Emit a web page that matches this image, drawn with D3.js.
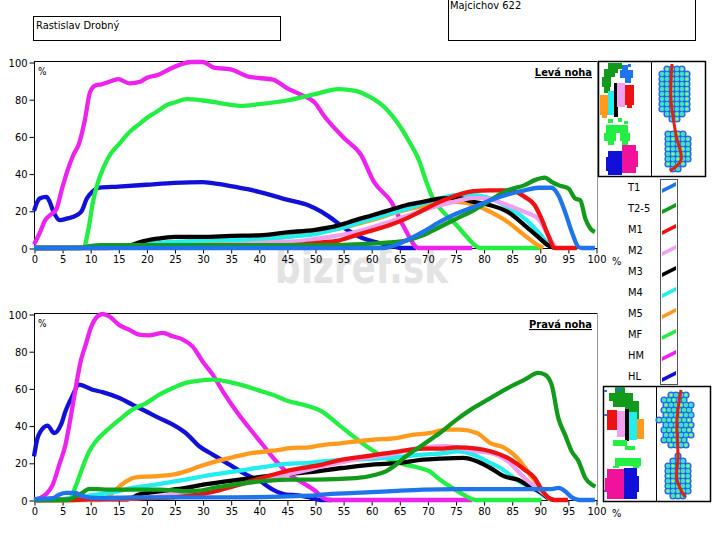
<!DOCTYPE html>
<html lang="cs">
<head>
<meta charset="UTF-8">
<title>Levá / Pravá noha</title>
<script src="https://d3js.org/d3.v7.min.js"></script>
<style>
  body { margin: 0; background: #fff; }
  text { font-family: "DejaVu Sans Condensed", "DejaVu Sans", sans-serif; }
</style>
</head>
<body>
<div id="box"></div>
<script>
// legend / series names and colours
var names = ["T1", "T2-5", "M1", "M2", "M3", "M4", "M5", "MF", "HM", "HL"];
var colors = ["#1e74ea", "#129a1a", "#ee1111", "#f0a0ee", "#000000", "#22eeee", "#ff9a1c", "#22ee44", "#ee22ee", "#1010d8"];
var xTicks = [0, 5, 10, 15, 20, 25, 30, 35, 40, 45, 50, 55, 60, 65, 70, 75, 80, 85, 90, 95, 100];
var yTicks = [0, 20, 40, 60, 80, 100];

// Levá noha  [x %, value %]
var levaT1 = [[0,0],[30,0],[62,0],[63.2,0.5],[66.2,4],[69.2,8.6],[72.2,14],[75.2,18.5],[78.2,22],[81.2,25.7],[84.3,28.8],[87.3,31],[89.7,32.4],[92.1,32.4],[93.3,28.4],[94.5,19.4],[95.7,8.6],[96.9,0.5],[97.6,0],[99.8,0]];
var levaT25 = [[0,0],[8,0],[10,1],[12,1.5],[20,1.5],[30,1.5],[40,1.5],[50,1.5],[55,1.7],[60,2.4],[63.2,3],[66.2,4],[69.2,6.8],[72.2,11.3],[75.2,15.8],[78.2,20.3],[81.2,25.7],[84.3,31],[87.3,33.8],[89.1,36.5],[90.9,37.8],[92.1,35.6],[93.3,33.8],[95.1,32],[96.3,26.6],[97.2,25.7],[98.1,15.8],[99,10.4],[99.8,8.6]];
var levaM1 = [[0,0],[10,0],[20,0.5],[30,0.8],[40,1],[45,1.4],[48,2],[51.2,3],[54.2,4],[57.2,6.8],[60.2,9.5],[63.2,12.2],[66.2,15.8],[69.2,20.3],[72.2,24.8],[75.2,28.4],[78.2,30.6],[81.2,31],[84.9,31],[87.3,27.5],[89.1,23],[90.3,15.8],[91.5,6.8],[92.7,0],[96.6,0]];
var levaM2 = [[0,0],[15,0.5],[25,1.5],[35,2],[42,3],[48,4],[51.2,5.4],[57.2,8.6],[63.2,14],[69.2,20.3],[75.2,25.2],[78.2,27],[81.2,26.3],[84.3,23],[87.3,19.4],[89.7,15.8],[91.5,6.8],[92.7,0.5]];
var levaM3 = [[0,0],[15,0.5],[16.5,0.8],[18.9,3.2],[21.9,5],[25,6],[30,6],[35,6.5],[40,6.8],[45,8.4],[50,9.8],[54.2,12.2],[57.2,15],[60.2,17.6],[63.2,20.3],[66.2,23],[69.2,24.8],[72.2,26.6],[75.2,27],[78.2,24.8],[81.2,23],[84.3,19.4],[87.3,12.2],[89.7,6],[91.5,1.4],[92.7,0]];
var levaM4 = [[0,0],[15,0.5],[20,2.3],[30,4],[40,4.7],[45,6],[50,7.5],[54.2,10.4],[60.2,15.8],[66.2,21],[72.2,26.6],[75.2,28.4],[78.2,28.4],[81.2,26.6],[84.3,22],[87.3,15.8],[89.7,8.6],[91.5,2.3],[92.7,0]];
var levaM5 = [[0,0],[15,0.5],[20,1.5],[30,3],[40,4.5],[45,6],[50,8],[55,11],[60,15],[65,19.5],[70,23],[72.2,24],[75.2,24.8],[78.2,23.4],[81.2,19.4],[84.3,14],[87.3,6.8],[89.7,1.4],[90.6,0]];
var levaMF = [[0,0],[8.8,0],[9.7,10.4],[10.5,25],[11.4,35.6],[12.3,42.8],[13.5,50],[15,55.4],[17.1,62.6],[18.9,67],[20,69.8],[21.9,73.4],[23.7,77],[25,78.2],[27.2,80],[30,79.3],[32.6,78.2],[35,77],[36.8,76.4],[40,77.3],[45,79.3],[50,82.7],[54.2,85.4],[57.2,84.5],[59.6,81.5],[62.6,75],[65,66],[66.8,57],[68.6,46.4],[69.8,35.6],[71,26.6],[72.8,19.4],[75.2,12.2],[77,6],[78.5,1.4],[79.4,0],[90,0]];
var levaHM = [[0,2],[1,8],[2,15],[3,18],[4,21],[5,32],[6,42],[7,50],[8,56],[9,68],[10,84],[11,87.5],[12,88],[14,90],[15,90.8],[17,88.5],[19,89.5],[20,91.4],[22,93],[24,96],[26,98.6],[28,100],[30,100],[32,97],[35,96],[38,92.3],[40,91.4],[42.5,90.5],[45,86],[47.5,82.4],[50,78],[51.5,71.5],[55.2,59],[58.2,50],[60.5,35.5],[63.6,24.7],[65.9,10.8],[68.4,0],[78,0]];
var levaHL = [[0,20],[1,26.6],[2.2,27.5],[2.8,24.8],[3.4,20],[4.6,15],[5.8,15.8],[7.6,17.6],[8.5,20],[9.4,26.6],[10.5,30.6],[11.7,32.4],[15,33],[20,34],[25,35],[30,35.4],[32,34.7],[35,33.3],[38,31.6],[40,30.2],[45,26],[48.8,23],[51.2,19.4],[53,15.8],[55.4,10.4],[58.4,5.4],[60.8,3.2],[63.8,1],[65.5,0],[68,0]];

// Pravá noha  [x %, value %]
var pravaT1 = [[0,0.5],[3.3,1],[4.5,2.9],[5.6,3.8],[7.4,3.8],[8.6,2],[11.6,1],[17.5,1.4],[35.4,1.4],[49,2.3],[51.2,2.9],[57.2,3.8],[63.2,4.7],[69.2,5.6],[75.2,5.9],[87.3,5.9],[92.1,5.9],[93.3,6.5],[94.5,4.7],[95.7,1.4],[96.3,0.5],[97,0],[99.8,0]];
var pravaT25 = [[0,0],[5.7,0],[6.8,1],[8.6,3.8],[9.8,6],[12.8,5.6],[17.5,5.6],[22.3,5.6],[27,4.7],[29.4,5],[32.4,6.8],[35.4,8.2],[40.1,10],[44.9,11],[50,11],[57.2,11.8],[60.8,13.6],[62.6,15.4],[64.4,19],[66.2,23.5],[69.2,29.7],[72.2,36],[75.2,43.2],[78.2,49.5],[81.2,54.8],[84.3,60.2],[87.3,64.7],[89.7,68.3],[90.9,67.4],[92.1,62],[93.3,44],[94.5,35],[95.7,26],[96.9,20.8],[98.1,11.8],[99.3,8.2],[99.9,7.3]];
var pravaM1 = [[0,0],[7,0],[10,0.5],[20,1],[24.7,1.4],[28.2,2.5],[31.8,4.3],[35.4,7.3],[38.9,10.4],[42.5,13.6],[46.1,16.3],[49,17.8],[51,18.9],[54.8,21.7],[60.2,24],[65,26.2],[69.2,27.6],[72.2,27.6],[75.2,28.3],[78.8,27.6],[81.2,26.2],[84.3,22.6],[87.3,16.3],[89.1,11.8],[90.3,5.6],[91.5,1.4],[92.5,0],[95,0]];
var pravaM2 = [[0,0],[15,0.5],[22.3,2],[27,3.8],[31.8,5.6],[36.6,8.2],[41.3,11],[46.1,14.5],[49,16.3],[51.2,18],[57.2,21.7],[63.2,24.4],[69.2,28.3],[73.4,28.9],[76.4,27.6],[78.8,26.2],[81.2,25.3],[84.3,20.8],[87.3,11.8],[89.1,7.3],[90.9,2.9],[92,0]];
var pravaM3 = [[0,0],[16.4,0.3],[18.7,2.9],[22.3,4.7],[27,6.5],[29.4,7.9],[34.2,10],[38.9,11.8],[43.7,13.6],[49,15],[54.8,17.2],[60.2,19],[65,19.9],[69.2,21.7],[72.2,22.2],[76.4,22.6],[78.8,20.8],[81.2,17.2],[83.7,12.7],[86,11],[88.5,6.8],[90.3,3.8],[91.5,1],[92.5,0]];
var pravaM4 = [[0,0],[5,0.5],[8.6,2],[13.4,3.8],[17.5,6.5],[22.3,8.6],[27,11],[31.8,13.6],[36.6,15.8],[41.3,18],[44.9,19.4],[49,19.9],[51.2,20.8],[57.2,21.7],[63.2,22.6],[69.2,24.4],[73.4,25.3],[75.2,26.2],[78.2,24.4],[80.6,20.8],[83,17.2],[85.4,11.8],[87.3,8.2],[89.7,4.7],[90.9,2],[92,0]];
var pravaM5 = [[0,0],[12,0],[12.8,1],[14.6,5.6],[16.4,10],[18.1,12.2],[21.1,12.7],[24.7,13.6],[27,15.4],[29.4,18],[32.4,20.8],[35.4,23],[38.9,25.3],[42.5,26.5],[46.1,28],[49,28.3],[50,28.9],[54.8,30.6],[60.2,32.4],[64.4,33.3],[66.8,34.8],[70.4,36],[73.4,37.8],[75.8,37.8],[78.8,36],[81.2,30.6],[83.7,28],[86,22.6],[88.5,12.7],[90,7.3],[90.9,2.9],[92.1,0]];
var pravaMF = [[0,0],[6.2,0],[7.4,7.3],[8.6,17.2],[9.8,26],[11,31.5],[12.8,37],[15.2,43.2],[17.5,48.6],[19.9,52],[22.3,56.6],[24.7,60.2],[27,63],[29.4,64.2],[31.8,64.7],[34.8,63.4],[37.8,61.1],[40.1,58.8],[42.5,56.6],[44.9,53.5],[48.2,51],[51.2,47.7],[54.2,40.5],[57.2,33.3],[59.6,28],[62.6,22.6],[65.6,19.4],[68.6,17.2],[70.4,15.4],[72.2,11],[74,7.3],[76.4,2.9],[77.9,0.5],[79,0],[90.3,0]];
var pravaHM = [[0,0],[2.1,3],[3.3,8],[4.5,19],[5.6,29.7],[6.5,44],[7.4,60],[8.3,74.5],[9.2,83.5],[10.1,92.5],[11.3,98.7],[12.2,100],[13.4,98.7],[15.2,94],[16.9,91.6],[18.7,88.9],[20.5,88.5],[21.7,89.2],[22.9,89.8],[24.7,88],[26.5,86.2],[28.2,82.6],[30,74.5],[31.8,67.4],[33.6,58.4],[36,47.7],[38.3,38.7],[40.7,29.7],[43.1,20.8],[45.5,13.6],[48.5,8],[50,5],[51.5,1],[52.5,0],[78,0]];
var pravaHL = [[0,23.5],[0.6,33],[1.2,37],[2.4,40],[3.6,36],[4.8,40.5],[5.6,47.7],[6.8,55.7],[8,62],[10.4,59.3],[12.2,58],[15.2,54.8],[17.5,51.3],[19.9,47.7],[22.3,44],[24.7,40.5],[27,36],[29.4,28.9],[31.8,24.4],[34.8,19],[37.8,13.6],[40.1,10.4],[42.5,5.6],[44.9,2.9],[47,2.5],[49,1.4],[51,0],[53,0]];

var levaSeries = [levaT1, levaT25, levaM1, levaM2, levaM3, levaM4, levaM5, levaMF, levaHM, levaHL];
var pravaSeries = [pravaT1, pravaT25, pravaM1, pravaM2, pravaM3, pravaM4, pravaM5, pravaMF, pravaHM, pravaHL];

var width = 727, height = 533;
var svg = d3.select("#box").append("svg")
    .attr("width", width).attr("height", height);

// watermark
svg.append("text")
    .attr("x", 275).attr("y", 283)
    .attr("textLength", 173).attr("lengthAdjust", "spacingAndGlyphs")
    .style("font-family", "'DejaVu Sans', sans-serif")
    .style("font-weight", "bold").style("font-size", "46px")
    .attr("fill", "#e3e3e3")
    .text("bizref.sk");

// header boxes
svg.append("rect").attr("x", 33.5).attr("y", 16.5).attr("width", 247).attr("height", 24)
    .attr("fill", "none").attr("stroke", "#000");
svg.append("text").attr("x", 36).attr("y", 29).style("font-size", "11px").text("Rastislav Drobný");
svg.append("rect").attr("x", 448.5).attr("y", -1).attr("width", 247).attr("height", 41.5)
    .attr("fill", "none").attr("stroke", "#000");
svg.append("text").attr("x", 450).attr("y", 9).style("font-size", "11px").text("Majcichov 622");

var x = d3.scaleLinear().domain([0, 100]).range([34, 596]);

function drawChart(top, bottom, series, title) {
    var y = d3.scaleLinear().domain([0, 100]).range([bottom, top + 1]);
    var g = svg.append("g");

    // frame
    g.append("line").attr("x1", 34).attr("x2", 597).attr("y1", top + 0.5).attr("y2", top + 0.5).attr("stroke", "#000");
    g.append("line").attr("x1", 597.5).attr("x2", 597.5).attr("y1", top).attr("y2", bottom + 1).attr("stroke", "#999");
    g.append("line").attr("x1", 34.5).attr("x2", 34.5).attr("y1", top).attr("y2", bottom).attr("stroke", "#000");
    g.append("line").attr("x1", 34).attr("x2", 597).attr("y1", bottom + 0.5).attr("y2", bottom + 0.5).attr("stroke", "#000");

    var yAxis = d3.axisLeft(y).tickValues(yTicks).tickSize(5).tickPadding(2);
    var ga = g.append("g").attr("transform", "translate(34.5,0.5)").call(yAxis);
    ga.select(".domain").remove();
    ga.selectAll("text").style("font-size", "11px").style("font-family", null).attr("fill", "#000");

    var xAxis = d3.axisBottom(x).tickValues(xTicks).tickSize(5).tickPadding(2);
    var gx = g.append("g").attr("transform", "translate(0.5," + (bottom + 0.5) + ")").call(xAxis);
    gx.select(".domain").remove();
    gx.selectAll("text").style("font-size", "11px").style("font-family", null).attr("fill", "#000");

    g.append("text").attr("x", 38).attr("y", top + 14).style("font-size", "10px").text("%");
    g.append("text").attr("x", 612).attr("y", bottom + 17).style("font-size", "11px").text("%");
    g.append("text").attr("x", 592).attr("y", top + 15).attr("text-anchor", "end")
        .style("font-size", "11px").style("font-weight", "bold")
        .style("text-decoration", "underline").text(title);

    var line = d3.line()
        .x(function(d) { return x(d[0]); })
        .y(function(d) { return y(d[1]); })
        .curve(d3.curveMonotoneX);

    // draw in reverse legend order, so T1 ends on top
    var order = d3.range(series.length).reverse();
    g.selectAll("path.serie")
        .data(order)
        .enter()
        .append("path")
        .attr("class", "serie")
        .attr("d", function(i) { return line(series[i]); })
        .attr("fill", "none")
        .attr("stroke", function(i) { return colors[i]; })
        .attr("stroke-width", 4.3)
        .attr("stroke-linejoin", "round");
}

drawChart(61, 248, levaSeries, "Levá noha");
drawChart(313, 500, pravaSeries, "Pravá noha");

// legend
var legend = svg.append("g");
legend.append("rect").attr("x", 660.5).attr("y", 179.5).attr("width", 17).attr("height", 205)
    .attr("fill", "#fff").attr("stroke", "#555");
legend.selectAll("text.lab")
    .data(names)
    .enter()
    .append("text")
    .attr("class", "lab")
    .attr("x", 628)
    .attr("y", function(d, i) { return 191 + i * 21; })
    .style("font-size", "11px")
    .text(function(d) { return d; });
legend.selectAll("polygon")
    .data(names)
    .enter()
    .append("polygon")
    .attr("points", function(d, i) {
        var cy = 187.5 + i * 21;
        return [[662, cy + 1.5], [676, cy - 5.5], [676, cy - 1.5], [662, cy + 5.5]].join(" ");
    })
    .attr("fill", function(d, i) { return colors[i]; });

// foot pictograms (zones), relative to box origin
var pink = "#f0129a";
var leftZones = [
    ["#129a1a", [[10,2,14,6],[6,8,10,8],[16,6,4,6],[4,16,9,10],[6,26,6,6],[13,12,4,4]]],
    ["#1e74ea", [[24,4,6,5],[22,9,13,8],[27,17,6,5],[30,3,3,3]]],
    ["#ff9a1c", [[2,34,8,20],[4,54,5,3]]],
    ["#22eeee", [[10,30,7,24]]],
    ["#000000", [[16,22,4,34]]],
    ["#f0a0ee", [[19,22,8,24]]],
    ["#ee1111", [[27,24,9,20],[29,44,5,3]]],
    ["#22ee44", [[10,58,5,4],[20,57,4,4],[26,60,4,3],[8,64,22,8],[6,72,12,8],[22,72,10,8],[10,80,6,4],[24,80,6,4]]],
    ["#1010d8", [[10,90,14,24],[8,96,3,14]]],
    [pink, [[24,84,14,28],[38,90,2,16]]]
];
var rightZones = [
    ["#129a1a", [[12,1,10,6],[6,7,24,8],[10,15,26,6],[22,21,14,8],[30,29,6,6]]],
    ["#1e74ea", [[1,4,3,2],[1,28,3,2],[1,104,3,2],[14,2,4,3]]],
    ["#ee1111", [[4,24,10,20]]],
    ["#f0a0ee", [[14,25,8,26]]],
    ["#000000", [[22,23,4,32]]],
    ["#22eeee", [[26,26,8,28]]],
    ["#ff9a1c", [[34,33,7,20]]],
    ["#22ee44", [[10,54,14,6],[22,60,10,4],[12,72,26,8],[10,80,6,2],[30,80,6,2]]],
    [pink, [[4,83,18,30],[2,92,3,14]]],
    ["#1010d8", [[21,82,13,31],[34,90,2,16]]]
];

function drawFoot(bx, by, zones, fore, heel, ridge) {
    var g = svg.append("g");
    g.append("rect").attr("x", bx + 0.5).attr("y", by + 0.5).attr("width", 107).attr("height", 115)
        .attr("fill", "#fff").attr("stroke", "#000").attr("stroke-width", 1.5);
    g.append("line").attr("x1", bx + 53.5).attr("x2", bx + 53.5).attr("y1", by).attr("y2", by + 115)
        .attr("stroke", "#000");
    zones.forEach(function(z) {
        g.selectAll(null).data(z[1]).enter().append("rect")
            .attr("x", function(r) { return bx + r[0]; })
            .attr("y", function(r) { return by + r[1]; })
            .attr("width", function(r) { return r[2]; })
            .attr("height", function(r) { return r[3]; })
            .attr("fill", z[0]);
    });

    // pressure map: bubbles on a grid inside two ellipses
    var pts = [];
    [fore, heel].forEach(function(e) {
        for (var py = e[1] - e[3]; py <= e[1] + e[3]; py += 5) {
            for (var px = e[0] - e[2]; px <= e[0] + e[2]; px += 5) {
                var dx = (px - e[0]) / e[2], dy = (py - e[1]) / e[3];
                if (dx * dx + dy * dy <= 1) pts.push([px + ((py / 5) % 2 ? 2 : 0), py]);
            }
        }
    });
    g.selectAll(null).data(pts).enter().append("circle")
        .attr("cx", function(p) { return p[0]; }).attr("cy", function(p) { return p[1]; })
        .attr("r", 3.6).attr("fill", "#2a5cf0");
    g.selectAll(null).data(pts).enter().append("circle")
        .attr("cx", function(p) { return p[0]; }).attr("cy", function(p) { return p[1]; })
        .attr("r", 2.3).attr("fill", "#3fe2c0");
    g.selectAll(null).data(pts.filter(function(p, i) { return i % 3 === 0; })).enter().append("circle")
        .attr("cx", function(p) { return p[0]; }).attr("cy", function(p) { return p[1]; })
        .attr("r", 1.1).attr("fill", "#c8ee40");
    g.append("path")
        .attr("d", d3.line().curve(d3.curveCatmullRom)(ridge))
        .attr("fill", "none").attr("stroke", "#dd2211").attr("stroke-width", 3);
}

drawFoot(598, 61, leftZones, [672, 92, 17, 28], [675, 150, 14, 21],
    [[672, 64], [671, 100], [676, 135], [681, 160], [670, 171]]);
drawFoot(603, 386, rightZones, [676, 420, 17, 30], [676, 477, 15, 21],
    [[681, 390], [677, 420], [678, 457], [677, 480], [685, 497]]);
</script>
</body>
</html>
